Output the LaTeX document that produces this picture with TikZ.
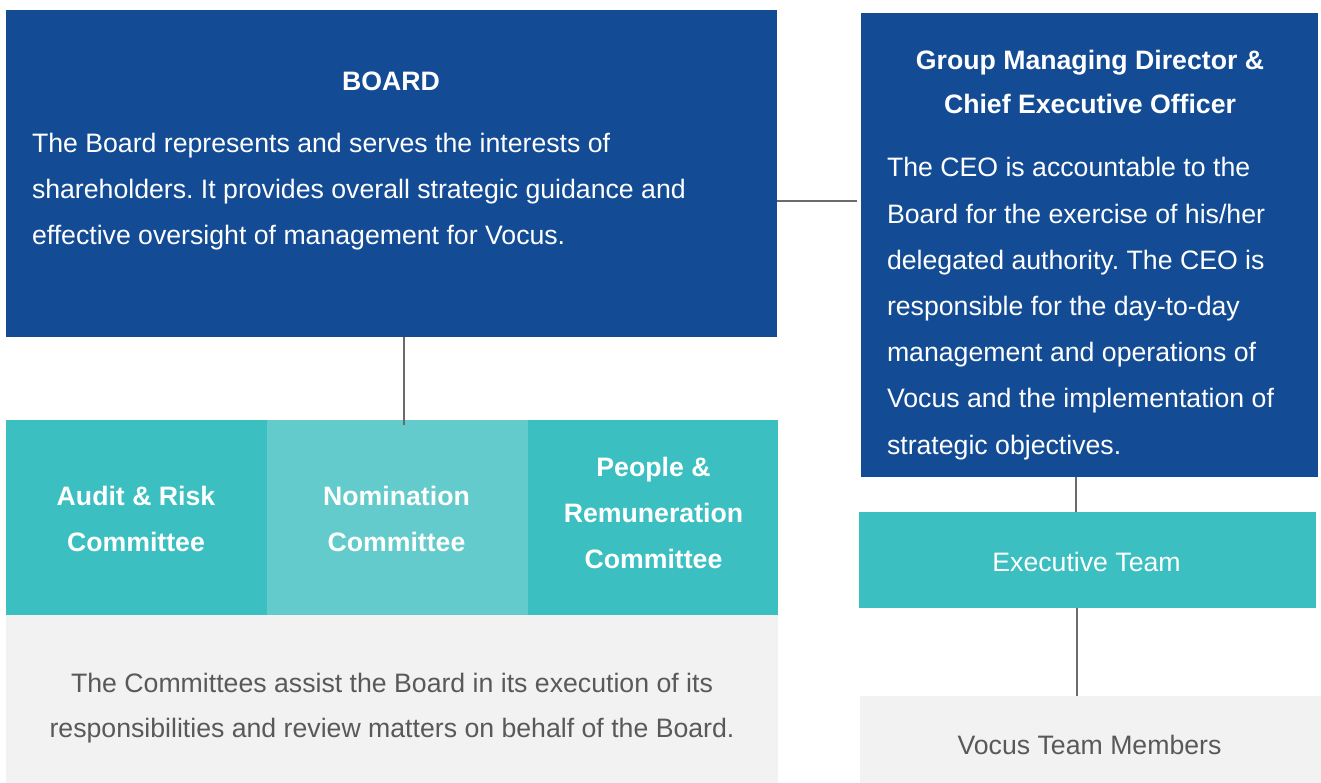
\documentclass[tikz,border=0pt]{standalone}
\usepackage{fontspec}
\setmainfont{Liberation Sans}
\frenchspacing
\definecolor{vblue}{HTML}{134C95}
\definecolor{vteal}{HTML}{3BBFC1}
\definecolor{vlteal}{HTML}{63CBCB}
\definecolor{vgrey}{HTML}{F2F2F2}
\definecolor{vtext}{HTML}{595959}
\definecolor{vline}{HTML}{6B6B6B}
\begin{document}
\begin{tikzpicture}[x=1pt,y=-1pt,
  box/.style={rectangle,draw=none,inner sep=0pt,outer sep=0pt},
  bluebox/.style={box,fill=vblue},
  tealbox/.style={box,fill=vteal},
  lightbox/.style={box,fill=vlteal},
  greybox/.style={box,fill=vgrey},
  txt/.style={inner sep=0pt,outer sep=0pt,text=white,font=\fontsize{26.67}{46}\selectfont},
  btxt/.style={txt,font=\fontsize{26.67}{46}\selectfont\bfseries},
  gtxt/.style={txt,text=vtext},
  conn/.style={draw=vline,line width=2pt}]
\path[use as bounding box] (0,0) rectangle (1321,783);
% boxes
\node[bluebox,minimum width=771pt,minimum height=327pt] (board) at (391.5,173.5) {};
\node[bluebox,minimum width=457pt,minimum height=464pt] (ceo) at (1089.5,245) {};
\node[tealbox,minimum width=261pt,minimum height=195pt] (audit) at (136.5,517.5) {};
\node[lightbox,minimum width=261pt,minimum height=195pt] (nom) at (397.5,517.5) {};
\node[tealbox,minimum width=250pt,minimum height=195pt] (people) at (653,517.5) {};
\node[greybox,minimum width=772pt,minimum height=168pt] (comm) at (392,699) {};
\node[tealbox,minimum width=457pt,minimum height=96pt] (exec) at (1087.5,560) {};
\node[greybox,minimum width=461pt,minimum height=87pt] (team) at (1090.5,739.5) {};
% connectors
\draw[conn] ([xshift=12.5pt]board.south) -- ([xshift=6.5pt,yshift=-5pt]nom.north);
\draw[conn] ([yshift=-27.5pt]board.east) -- ([yshift=-27.5pt,xshift=-4pt]board.east -| ceo.west);
\draw[conn] ([xshift=-13.5pt]ceo.south) -- ([xshift=-11.5pt]exec.north);
\draw[conn] ([xshift=-10.5pt]exec.south) -- ([xshift=-13.5pt]team.north);
% texts (base anchor = baseline of last line)
\node[btxt,anchor=base] (boardt) at (391,91) {BOARD};
\node[txt,anchor=base west,align=left] (boardb) at (32,245) {The Board represents and serves the interests of\\shareholders. It provides overall strategic guidance and\\effective oversight of management for Vocus.};
\node[btxt,anchor=base,align=center,font=\fontsize{26.67}{44}\selectfont\bfseries] (ceot) at (1090,114) {Group Managing Director \&\\Chief Executive Officer};
\node[txt,anchor=base west,align=left,font=\fontsize{26.67}{46.2}\selectfont] (ceob) at (887,454) {The CEO is accountable to the\\Board for the exercise of his/her\\delegated authority. The CEO is\\responsible for the day-to-day\\management and operations of\\Vocus and the implementation of\\strategic objectives.};
\node[btxt,anchor=base,align=center] (auditt) at (136,551) {Audit \& Risk\\Committee};
\node[btxt,anchor=base,align=center] (nomt) at (396.5,551) {Nomination\\Committee};
\node[btxt,anchor=base,align=center] (peoplet) at (653.5,568) {People \&\\Remuneration\\Committee};
\node[gtxt,anchor=base,align=center,font=\fontsize{26.67}{45}\selectfont] (commt) at (392,737) {The Committees assist the Board in its execution of its\\responsibilities and review matters on behalf of the Board.};
\node[txt,anchor=base] (exect) at (1086.5,571) {Executive Team};
\node[gtxt,anchor=base] (teamt) at (1089.5,754) {Vocus Team Members};
\end{tikzpicture}
\end{document}
